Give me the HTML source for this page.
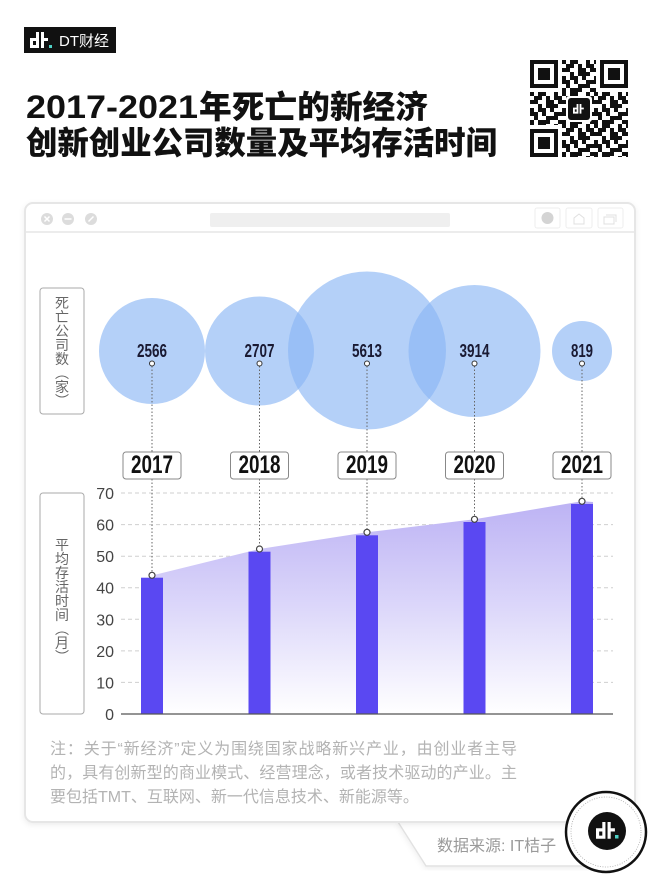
<!DOCTYPE html>
<html><head><meta charset="utf-8">
<style>
html,body{margin:0;padding:0;background:#fff;}
svg{display:block;}
</style></head><body>
<svg width="660" height="893" viewBox="0 0 660 893" xmlns="http://www.w3.org/2000/svg" font-family="'Liberation Sans','Noto Sans CJK SC',sans-serif">
<defs>
 <linearGradient id="ag" x1="0" y1="500" x2="0" y2="714" gradientUnits="userSpaceOnUse">
  <stop offset="0" stop-color="#bcb2f4"/>
  <stop offset="0.5" stop-color="#dcd7fa"/>
  <stop offset="1" stop-color="#ffffff"/>
 </linearGradient>
 <pattern id="qr" x="530" y="60" width="32" height="32" patternUnits="userSpaceOnUse">
  <rect width="32" height="32" fill="#fff"/>
  <path fill="#111" d="M0 0h4v4h-4z M8 0h8v4h-8z M24 0h4v4h-4z
  M4 4h8v4h-8z M16 4h4v4h-4z M24 4h8v4h-8z
  M0 8h8v4h-8z M16 8h8v4h-8z M28 8h4v4h-4z
  M8 12h4v4h-4z M16 12h12v4h-12z
  M0 16h4v4h-4z M8 16h8v4h-8z M20 16h4v4h-4z
  M0 20h8v4h-8z M12 20h4v4h-4z M24 20h8v4h-8z
  M4 24h4v4h-4z M16 24h12v4h-12z
  M0 28h4v4h-4z M8 28h12v4h-12z M28 28h4v4h-4z"/>
 </pattern>
 <filter id="sh" x="-10%" y="-10%" width="120%" height="120%">
  <feDropShadow dx="0" dy="2" stdDeviation="3" flood-color="#000" flood-opacity="0.07"/>
 </filter>
 <path id="dtg" fill-rule="evenodd" d="M0 6h9v10h-9z M3 9v4h3v-4z M6 0h3v6h-3z M11 0h3v16h-3z M14 6h4v3h-4z"/>
</defs>

<!-- Header logo -->
<rect x="24" y="27" width="92" height="26" fill="#111"/>
<use href="#dtg" x="30" y="32" fill="#fff"/>
<rect x="49" y="45" width="3" height="3" fill="#4fd1c5"/>
<text x="59" y="46" font-size="15" fill="#fff">DT财经</text>

<!-- Title -->
<text x="26" y="118" font-size="32" font-weight="900" fill="#111" textLength="172" lengthAdjust="spacingAndGlyphs">2017-2021</text>
<text x="199" y="118" font-size="32" font-weight="900" fill="#111" textLength="229" lengthAdjust="spacingAndGlyphs">年死亡的新经济</text>
<text x="26" y="154" font-size="32" font-weight="900" fill="#111" textLength="471" lengthAdjust="spacingAndGlyphs">创新创业公司数量及平均存活时间</text>

<!-- QR code -->
<rect x="530" y="60" width="98" height="97" fill="url(#qr)"/>
<g>
 <rect x="528" y="58" width="34" height="34" fill="#fff"/>
 <rect x="530" y="60" width="28" height="28" fill="#111"/>
 <rect x="534" y="64" width="20" height="20" fill="#fff"/>
 <rect x="538" y="68" width="12" height="12" fill="#111"/>
 <rect x="596" y="58" width="34" height="34" fill="#fff"/>
 <rect x="600" y="60" width="28" height="28" fill="#111"/>
 <rect x="604" y="64" width="20" height="20" fill="#fff"/>
 <rect x="608" y="68" width="12" height="12" fill="#111"/>
 <rect x="528" y="125" width="34" height="34" fill="#fff"/>
 <rect x="530" y="129" width="28" height="28" fill="#111"/>
 <rect x="534" y="133" width="20" height="20" fill="#fff"/>
 <rect x="538" y="137" width="12" height="12" fill="#111"/>
 <rect x="566" y="96" width="26" height="26" rx="3" fill="#fff"/>
 <rect x="568" y="98" width="22" height="22" rx="3" fill="#111"/>
 <use href="#dtg" transform="translate(573,104) scale(0.6)" fill="#fff"/>
</g>

<!-- Source tab -->
<polygon points="398,822 426,866 590,866 590,822" fill="#fff" stroke="#e2e2e2" stroke-width="1.5" filter="url(#sh)"/>
<!-- Window -->
<rect x="25" y="203" width="610" height="619" rx="8" fill="#fff" stroke="#e6e6e6" stroke-width="2" filter="url(#sh)"/>
<line x1="26" y1="232" x2="634" y2="232" stroke="#ececec" stroke-width="2"/>
<circle cx="47" cy="219" r="6" fill="#dcdcdc"/>
<circle cx="68" cy="219" r="6" fill="#dcdcdc"/>
<circle cx="91" cy="219" r="6" fill="#dcdcdc"/>
<path d="M44.5 216.5l5 5M49.5 216.5l-5 5M64.5 219h7M88.5 221.5l5-5" stroke="#fff" stroke-width="1.5"/>
<rect x="210" y="213" width="240" height="14" rx="2" fill="#efefef"/>
<rect x="535" y="208" width="25" height="20" rx="2" fill="#fff" stroke="#eeeeee"/>
<circle cx="547.5" cy="218" r="6" fill="#d4d4d4"/>
<rect x="566" y="208" width="26" height="20" rx="2" fill="#fff" stroke="#eeeeee"/>
<path d="M574 224v-6l5-4 5 4v6z" fill="none" stroke="#e0e0e0"/>
<rect x="598" y="208" width="25" height="20" rx="2" fill="#fff" stroke="#eeeeee"/>
<path d="M604 224v-7h10v7zM606 215h10v7" fill="none" stroke="#e0e0e0"/>

<!-- Y label boxes -->
<rect x="40" y="288" width="44" height="126" rx="3" fill="#fff" stroke="#aaa"/>
<g font-size="14" fill="#666" text-anchor="middle">
 <text x="62" y="308">死</text><text x="62" y="322">亡</text><text x="62" y="336">公</text><text x="62" y="350">司</text><text x="62" y="364">数</text><text x="62" y="378">︵</text><text x="62" y="392">家</text><text x="62" y="406">︶</text>
</g>
<rect x="40" y="493" width="44" height="221" rx="3" fill="#fff" stroke="#aaa"/>
<g font-size="14" fill="#666" text-anchor="middle">
 <text x="62" y="550">平</text><text x="62" y="564">均</text><text x="62" y="578">存</text><text x="62" y="592">活</text><text x="62" y="606">时</text><text x="62" y="620">间</text><text x="62" y="634">︵</text><text x="62" y="648">月</text><text x="62" y="662">︶</text>
</g>

<!-- Bubbles -->
<g fill="#89b6f4" fill-opacity="0.64">
 <circle cx="152" cy="351" r="53"/>
 <circle cx="259.5" cy="351" r="54.5"/>
 <circle cx="367" cy="350.5" r="79"/>
 <circle cx="474.5" cy="351" r="66"/>
 <circle cx="582" cy="351" r="30"/>
</g>
<g font-size="18" font-weight="bold" fill="#1a1a33" text-anchor="middle">
 <text x="152" y="357" textLength="30" lengthAdjust="spacingAndGlyphs">2566</text>
 <text x="259.5" y="357" textLength="30" lengthAdjust="spacingAndGlyphs">2707</text>
 <text x="367" y="357" textLength="30" lengthAdjust="spacingAndGlyphs">5613</text>
 <text x="474.5" y="357" textLength="30" lengthAdjust="spacingAndGlyphs">3914</text>
 <text x="582" y="357" textLength="22" lengthAdjust="spacingAndGlyphs">819</text>
</g>

<!-- Grid -->
<g stroke="#cfcfcf" stroke-width="1" stroke-dasharray="4 3">
 <line x1="121" y1="493" x2="613" y2="493"/>
 <line x1="121" y1="524.6" x2="613" y2="524.6"/>
 <line x1="121" y1="556.2" x2="613" y2="556.2"/>
 <line x1="121" y1="587.7" x2="613" y2="587.7"/>
 <line x1="121" y1="619.3" x2="613" y2="619.3"/>
 <line x1="121" y1="650.9" x2="613" y2="650.9"/>
 <line x1="121" y1="682.4" x2="613" y2="682.4"/>
</g>
<g font-size="16" fill="#444" text-anchor="end">
 <text x="114" y="499">70</text>
 <text x="114" y="530.6">60</text>
 <text x="114" y="562.2">50</text>
 <text x="114" y="593.7">40</text>
 <text x="114" y="625.3">30</text>
 <text x="114" y="656.9">20</text>
 <text x="114" y="688.4">10</text>
 <text x="114" y="720">0</text>
</g>

<!-- Area -->
<polygon points="152,575.5 259.5,549 367,532.3 474.5,519.3 582,501.3 593,502 593,714 152,714" fill="url(#ag)"/>

<!-- Bars -->
<g fill="#5a48f2">
 <rect x="141" y="577.7" width="22" height="136.3"/>
 <rect x="248.5" y="551.7" width="22" height="162.3"/>
 <rect x="356" y="535.3" width="22" height="178.7"/>
 <rect x="463.5" y="522" width="22" height="192"/>
 <rect x="571" y="504" width="22" height="210"/>
</g>
<line x1="121" y1="714" x2="613" y2="714" stroke="#555" stroke-width="1.2"/>

<!-- Dotted connectors -->
<g stroke="#666" stroke-width="1" stroke-dasharray="1.5 2">
 <line x1="152" y1="366" x2="152" y2="452"/><line x1="152" y1="479" x2="152" y2="572"/>
 <line x1="259.5" y1="366" x2="259.5" y2="452"/><line x1="259.5" y1="479" x2="259.5" y2="546"/>
 <line x1="367" y1="366" x2="367" y2="452"/><line x1="367" y1="479" x2="367" y2="529"/>
 <line x1="474.5" y1="366" x2="474.5" y2="452"/><line x1="474.5" y1="479" x2="474.5" y2="516"/>
 <line x1="582" y1="366" x2="582" y2="452"/><line x1="582" y1="479" x2="582" y2="498"/>
</g>
<g fill="#fff" stroke="#333" stroke-width="1">
 <circle cx="152" cy="363.5" r="2.5"/><circle cx="259.5" cy="363.5" r="2.5"/><circle cx="367" cy="363.5" r="2.5"/><circle cx="474.5" cy="363.5" r="2.5"/><circle cx="582" cy="363.5" r="2.5"/>
</g>
<g fill="#fff" stroke="#444" stroke-width="1.2">
 <circle cx="152" cy="575.3" r="3"/><circle cx="259.5" cy="549" r="3"/><circle cx="367" cy="532.3" r="3"/><circle cx="474.5" cy="519.3" r="3"/><circle cx="582" cy="501.3" r="3"/>
</g>

<!-- Year boxes -->
<g fill="#fff" stroke="#888" stroke-width="1">
 <rect x="123" y="452" width="58" height="27" rx="3"/>
 <rect x="230.5" y="452" width="58" height="27" rx="3"/>
 <rect x="338" y="452" width="58" height="27" rx="3"/>
 <rect x="445.5" y="452" width="58" height="27" rx="3"/>
 <rect x="553" y="452" width="58" height="27" rx="3"/>
</g>
<g font-size="25" font-weight="bold" fill="#111" text-anchor="middle">
 <text x="152" y="473" textLength="42" lengthAdjust="spacingAndGlyphs">2017</text>
 <text x="259.5" y="473" textLength="42" lengthAdjust="spacingAndGlyphs">2018</text>
 <text x="367" y="473" textLength="42" lengthAdjust="spacingAndGlyphs">2019</text>
 <text x="474.5" y="473" textLength="42" lengthAdjust="spacingAndGlyphs">2020</text>
 <text x="582" y="473" textLength="42" lengthAdjust="spacingAndGlyphs">2021</text>
</g>

<!-- Note -->
<g font-size="16" fill="#b3b3b3">
 <text x="50" y="754" textLength="467" lengthAdjust="spacing">注：关于“新经济”定义为围绕国家战略新兴产业，由创业者主导</text>
 <text x="50" y="778" textLength="467" lengthAdjust="spacing">的，具有创新型的商业模式、经营理念，或者技术驱动的产业。主</text>
 <text x="50" y="802">要包括TMT、互联网、新一代信息技术、新能源等。</text>
</g>

<!-- Source text -->
<text x="437" y="851" font-size="16" fill="#9a9a9a">数据来源: IT桔子</text>

<!-- Stamp -->
<circle cx="606" cy="832" r="40" fill="#fff" stroke="#111" stroke-width="2.5"/>
<circle cx="606" cy="832" r="35" fill="none" stroke="#aaa" stroke-width="0.8" stroke-dasharray="1 1.5"/>
<circle cx="607" cy="831" r="19" fill="#111"/>
<use href="#dtg" transform="translate(596,822) scale(1.05)" fill="#fff"/>
<rect x="615" y="835" width="3.5" height="3.5" fill="#4fd1c5"/>
</svg>
</body></html>
